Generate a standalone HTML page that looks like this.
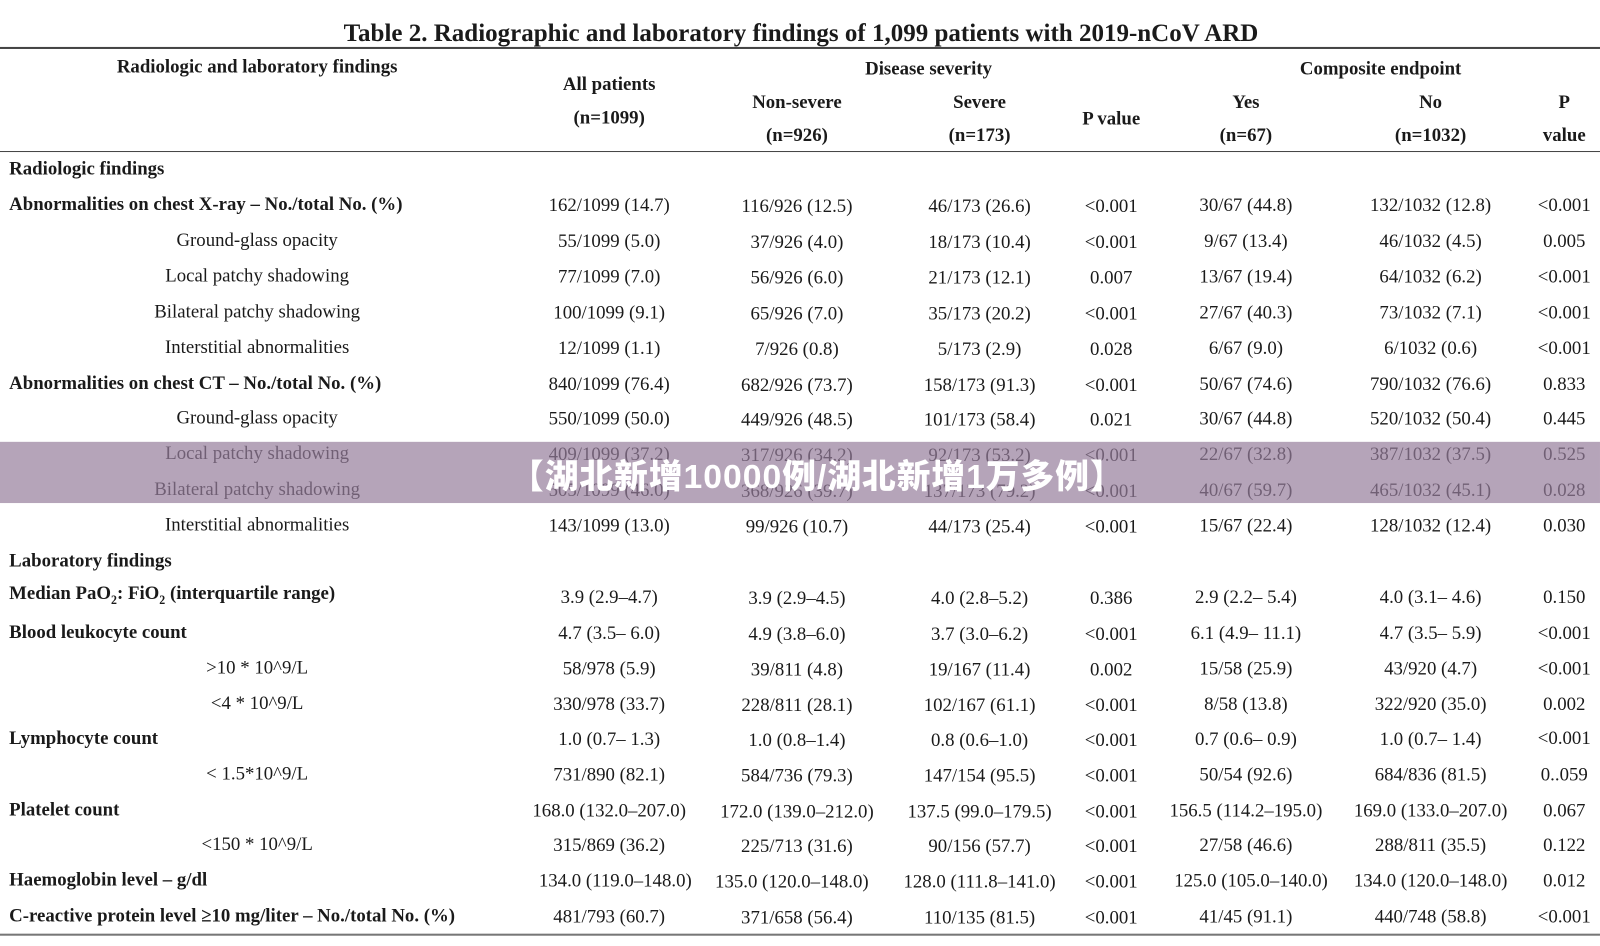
<!DOCTYPE html>
<html><head><meta charset="utf-8"><style>
body{margin:0;width:1600px;height:946px;background:#fff;position:relative;overflow:hidden;font-family:"Liberation Serif",serif;color:#1a1a1a}
#w{position:absolute;left:0;top:0;width:1568px;height:927px;transform:scale(1.0204);transform-origin:0 0}
.t{position:absolute;white-space:nowrap;font-size:19px;line-height:20px;transform:translate(-50%,-50%) scaleX(.97)}
.l{position:absolute;white-space:nowrap;font-size:19px;line-height:20px;transform-origin:0 50%;transform:translate(0,-50%) scaleX(.97)}
.b{font-weight:bold}
.hr{position:absolute;left:0;width:1568px;background:#444}
</style></head><body><div id="w">
<div class="t b" style="left:785px;top:33px;font-size:25px;transform:translate(-50%,-50%) scaleX(.98)">Table 2. Radiographic and laboratory findings of 1,099 patients with 2019-nCoV ARD</div>
<div class="hr" style="top:46px;height:2px"></div>
<div class="hr" style="top:148px;height:1px"></div>
<div class="hr" style="top:915px;height:2px;background:#777"></div>
<div class="t b" style="left:252px;top:66px">Radiologic and laboratory findings</div>
<div class="t b" style="left:597px;top:83px">All patients</div>
<div class="t b" style="left:597px;top:116px">(n=1099)</div>
<div class="t b" style="left:910px;top:68px">Disease severity</div>
<div class="t b" style="left:1353px;top:68px">Composite endpoint</div>
<div class="t b" style="left:781px;top:101px">Non-severe</div>
<div class="t b" style="left:781px;top:133px">(n=926)</div>
<div class="t b" style="left:960px;top:101px">Severe</div>
<div class="t b" style="left:960px;top:133px">(n=173)</div>
<div class="t b" style="left:1089px;top:117px">P value</div>
<div class="t b" style="left:1221px;top:101px">Yes</div>
<div class="t b" style="left:1221px;top:133px">(n=67)</div>
<div class="t b" style="left:1402px;top:101px">No</div>
<div class="t b" style="left:1402px;top:133px">(n=1032)</div>
<div class="t b" style="left:1533px;top:101px">P</div>
<div class="t b" style="left:1533px;top:133px">value</div>

<div class="l b" style="left:9px;top:166px">Radiologic findings</div>

<div class="l b" style="left:9px;top:201px">Abnormalities on chest X-ray – No./total No. (%)</div>
<div class="t" style="left:597px;top:202px">162/1099 (14.7)</div><div class="t" style="left:781px;top:203px">116/926 (12.5)</div><div class="t" style="left:960px;top:203px">46/173 (26.6)</div><div class="t" style="left:1089px;top:203px">&lt;0.001</div><div class="t" style="left:1221px;top:202px">30/67 (44.8)</div><div class="t" style="left:1402px;top:202px">132/1032 (12.8)</div><div class="t" style="left:1533px;top:202px">&lt;0.001</div>

<div class="t" style="left:252px;top:236px">Ground-glass opacity</div>
<div class="t" style="left:597px;top:237px">55/1099 (5.0)</div><div class="t" style="left:781px;top:238px">37/926 (4.0)</div><div class="t" style="left:960px;top:238px">18/173 (10.4)</div><div class="t" style="left:1089px;top:238px">&lt;0.001</div><div class="t" style="left:1221px;top:237px">9/67 (13.4)</div><div class="t" style="left:1402px;top:237px">46/1032 (4.5)</div><div class="t" style="left:1533px;top:237px">0.005</div>

<div class="t" style="left:252px;top:271px">Local patchy shadowing</div>
<div class="t" style="left:597px;top:272px">77/1099 (7.0)</div><div class="t" style="left:781px;top:273px">56/926 (6.0)</div><div class="t" style="left:960px;top:273px">21/173 (12.1)</div><div class="t" style="left:1089px;top:273px">0.007</div><div class="t" style="left:1221px;top:272px">13/67 (19.4)</div><div class="t" style="left:1402px;top:272px">64/1032 (6.2)</div><div class="t" style="left:1533px;top:272px">&lt;0.001</div>

<div class="t" style="left:252px;top:306px">Bilateral patchy shadowing</div>
<div class="t" style="left:597px;top:307px">100/1099 (9.1)</div><div class="t" style="left:781px;top:308px">65/926 (7.0)</div><div class="t" style="left:960px;top:308px">35/173 (20.2)</div><div class="t" style="left:1089px;top:308px">&lt;0.001</div><div class="t" style="left:1221px;top:307px">27/67 (40.3)</div><div class="t" style="left:1402px;top:307px">73/1032 (7.1)</div><div class="t" style="left:1533px;top:307px">&lt;0.001</div>

<div class="t" style="left:252px;top:341px">Interstitial abnormalities</div>
<div class="t" style="left:597px;top:342px">12/1099 (1.1)</div><div class="t" style="left:781px;top:343px">7/926 (0.8)</div><div class="t" style="left:960px;top:343px">5/173 (2.9)</div><div class="t" style="left:1089px;top:343px">0.028</div><div class="t" style="left:1221px;top:342px">6/67 (9.0)</div><div class="t" style="left:1402px;top:342px">6/1032 (0.6)</div><div class="t" style="left:1533px;top:342px">&lt;0.001</div>

<div class="l b" style="left:9px;top:376px">Abnormalities on chest CT – No./total No. (%)</div>
<div class="t" style="left:597px;top:377px">840/1099 (76.4)</div><div class="t" style="left:781px;top:378px">682/926 (73.7)</div><div class="t" style="left:960px;top:378px">158/173 (91.3)</div><div class="t" style="left:1089px;top:378px">&lt;0.001</div><div class="t" style="left:1221px;top:377px">50/67 (74.6)</div><div class="t" style="left:1402px;top:377px">790/1032 (76.6)</div><div class="t" style="left:1533px;top:377px">0.833</div>

<div class="t" style="left:252px;top:410px">Ground-glass opacity</div>
<div class="t" style="left:597px;top:411px">550/1099 (50.0)</div><div class="t" style="left:781px;top:412px">449/926 (48.5)</div><div class="t" style="left:960px;top:412px">101/173 (58.4)</div><div class="t" style="left:1089px;top:412px">0.021</div><div class="t" style="left:1221px;top:411px">30/67 (44.8)</div><div class="t" style="left:1402px;top:411px">520/1032 (50.4)</div><div class="t" style="left:1533px;top:411px">0.445</div>

<div class="t" style="left:252px;top:445px">Local patchy shadowing</div>
<div class="t" style="left:597px;top:446px">409/1099 (37.2)</div><div class="t" style="left:781px;top:447px">317/926 (34.2)</div><div class="t" style="left:960px;top:447px">92/173 (53.2)</div><div class="t" style="left:1089px;top:447px">&lt;0.001</div><div class="t" style="left:1221px;top:446px">22/67 (32.8)</div><div class="t" style="left:1402px;top:446px">387/1032 (37.5)</div><div class="t" style="left:1533px;top:446px">0.525</div>

<div class="t" style="left:252px;top:480px">Bilateral patchy shadowing</div>
<div class="t" style="left:597px;top:481px">505/1099 (46.0)</div><div class="t" style="left:781px;top:482px">368/926 (39.7)</div><div class="t" style="left:960px;top:482px">137/173 (79.2)</div><div class="t" style="left:1089px;top:482px">&lt;0.001</div><div class="t" style="left:1221px;top:481px">40/67 (59.7)</div><div class="t" style="left:1402px;top:481px">465/1032 (45.1)</div><div class="t" style="left:1533px;top:481px">0.028</div>

<div class="t" style="left:252px;top:515px">Interstitial abnormalities</div>
<div class="t" style="left:597px;top:516px">143/1099 (13.0)</div><div class="t" style="left:781px;top:517px">99/926 (10.7)</div><div class="t" style="left:960px;top:517px">44/173 (25.4)</div><div class="t" style="left:1089px;top:517px">&lt;0.001</div><div class="t" style="left:1221px;top:516px">15/67 (22.4)</div><div class="t" style="left:1402px;top:516px">128/1032 (12.4)</div><div class="t" style="left:1533px;top:516px">0.030</div>

<div class="l b" style="left:9px;top:550px">Laboratory findings</div>

<div class="l b" style="left:9px;top:585px">Median PaO<sub style="font-size:12px">2</sub>: FiO<sub style="font-size:12px">2</sub> (interquartile range)</div>
<div class="t" style="left:597px;top:586px">3.9 (2.9–4.7)</div><div class="t" style="left:781px;top:587px">3.9 (2.9–4.5)</div><div class="t" style="left:960px;top:587px">4.0 (2.8–5.2)</div><div class="t" style="left:1089px;top:587px">0.386</div><div class="t" style="left:1221px;top:586px">2.9 (2.2– 5.4)</div><div class="t" style="left:1402px;top:586px">4.0 (3.1– 4.6)</div><div class="t" style="left:1533px;top:586px">0.150</div>

<div class="l b" style="left:9px;top:620px">Blood leukocyte count</div>
<div class="t" style="left:597px;top:621px">4.7 (3.5– 6.0)</div><div class="t" style="left:781px;top:622px">4.9 (3.8–6.0)</div><div class="t" style="left:960px;top:622px">3.7 (3.0–6.2)</div><div class="t" style="left:1089px;top:622px">&lt;0.001</div><div class="t" style="left:1221px;top:621px">6.1 (4.9– 11.1)</div><div class="t" style="left:1402px;top:621px">4.7 (3.5– 5.9)</div><div class="t" style="left:1533px;top:621px">&lt;0.001</div>

<div class="t" style="left:252px;top:655px">&gt;10 * 10^9/L</div>
<div class="t" style="left:597px;top:656px">58/978 (5.9)</div><div class="t" style="left:781px;top:657px">39/811 (4.8)</div><div class="t" style="left:960px;top:657px">19/167 (11.4)</div><div class="t" style="left:1089px;top:657px">0.002</div><div class="t" style="left:1221px;top:656px">15/58 (25.9)</div><div class="t" style="left:1402px;top:656px">43/920 (4.7)</div><div class="t" style="left:1533px;top:656px">&lt;0.001</div>

<div class="t" style="left:252px;top:690px">&lt;4 * 10^9/L</div>
<div class="t" style="left:597px;top:691px">330/978 (33.7)</div><div class="t" style="left:781px;top:692px">228/811 (28.1)</div><div class="t" style="left:960px;top:692px">102/167 (61.1)</div><div class="t" style="left:1089px;top:692px">&lt;0.001</div><div class="t" style="left:1221px;top:691px">8/58 (13.8)</div><div class="t" style="left:1402px;top:691px">322/920 (35.0)</div><div class="t" style="left:1533px;top:691px">0.002</div>

<div class="l b" style="left:9px;top:724px">Lymphocyte count</div>
<div class="t" style="left:597px;top:725px">1.0 (0.7– 1.3)</div><div class="t" style="left:781px;top:726px">1.0 (0.8–1.4)</div><div class="t" style="left:960px;top:726px">0.8 (0.6–1.0)</div><div class="t" style="left:1089px;top:726px">&lt;0.001</div><div class="t" style="left:1221px;top:725px">0.7 (0.6– 0.9)</div><div class="t" style="left:1402px;top:725px">1.0 (0.7– 1.4)</div><div class="t" style="left:1533px;top:724px">&lt;0.001</div>

<div class="t" style="left:252px;top:759px">&lt; 1.5*10^9/L</div>
<div class="t" style="left:597px;top:760px">731/890 (82.1)</div><div class="t" style="left:781px;top:761px">584/736 (79.3)</div><div class="t" style="left:960px;top:761px">147/154 (95.5)</div><div class="t" style="left:1089px;top:761px">&lt;0.001</div><div class="t" style="left:1221px;top:760px">50/54 (92.6)</div><div class="t" style="left:1402px;top:760px">684/836 (81.5)</div><div class="t" style="left:1533px;top:760px">0..059</div>

<div class="l b" style="left:9px;top:794px">Platelet count</div>
<div class="t" style="left:597px;top:795px">168.0 (132.0–207.0)</div><div class="t" style="left:781px;top:796px">172.0 (139.0–212.0)</div><div class="t" style="left:960px;top:796px">137.5 (99.0–179.5)</div><div class="t" style="left:1089px;top:796px">&lt;0.001</div><div class="t" style="left:1221px;top:795px">156.5 (114.2–195.0)</div><div class="t" style="left:1402px;top:795px">169.0 (133.0–207.0)</div><div class="t" style="left:1533px;top:795px">0.067</div>

<div class="t" style="left:252px;top:828px">&lt;150 * 10^9/L</div>
<div class="t" style="left:597px;top:829px">315/869 (36.2)</div><div class="t" style="left:781px;top:830px">225/713 (31.6)</div><div class="t" style="left:960px;top:830px">90/156 (57.7)</div><div class="t" style="left:1089px;top:830px">&lt;0.001</div><div class="t" style="left:1221px;top:829px">27/58 (46.6)</div><div class="t" style="left:1402px;top:829px">288/811 (35.5)</div><div class="t" style="left:1533px;top:829px">0.122</div>

<div class="l b" style="left:9px;top:863px">Haemoglobin level – g/dl</div>
<div class="t" style="left:603px;top:864px">134.0 (119.0–148.0)</div><div class="t" style="left:776px;top:865px">135.0 (120.0–148.0)</div><div class="t" style="left:960px;top:865px">128.0 (111.8–141.0)</div><div class="t" style="left:1089px;top:865px">&lt;0.001</div><div class="t" style="left:1226px;top:864px">125.0 (105.0–140.0)</div><div class="t" style="left:1402px;top:864px">134.0 (120.0–148.0)</div><div class="t" style="left:1533px;top:864px">0.012</div>

<div class="l b" style="left:9px;top:898px">C-reactive protein level ≥10 mg/liter – No./total No. (%)</div>
<div class="t" style="left:597px;top:899px">481/793 (60.7)</div><div class="t" style="left:781px;top:900px">371/658 (56.4)</div><div class="t" style="left:960px;top:900px">110/135 (81.5)</div><div class="t" style="left:1089px;top:900px">&lt;0.001</div><div class="t" style="left:1221px;top:899px">41/45 (91.1)</div><div class="t" style="left:1402px;top:899px">440/748 (58.8)</div><div class="t" style="left:1533px;top:899px">&lt;0.001</div>

<div style="position:absolute;left:0;top:433px;width:1568px;height:60px;background:rgba(150,125,155,.7)"></div>
<div style="position:absolute;left:801px;top:464px;transform:translate(-50%,-50%);white-space:nowrap;color:#fff;font-weight:900;font-size:33px;letter-spacing:1px;font-family:'Liberation Sans','Noto Sans CJK SC',sans-serif">【湖北新增10000例/湖北新增1万多例】</div>
</div></body></html>
